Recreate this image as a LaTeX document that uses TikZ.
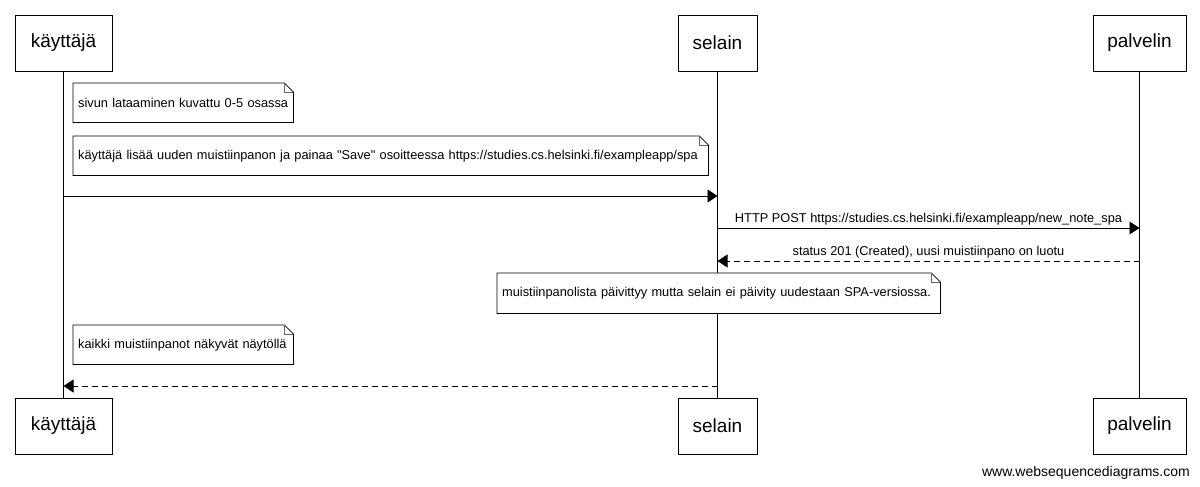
\documentclass[tikz,border=0pt]{standalone}
\usepackage{fontspec}
\setmainfont{Liberation Sans}
\usetikzlibrary{positioning,arrows.meta}
\newcommand{\notefold}[1]{\draw[line width=0.7pt] (#1.north west) -- ([xshift=-9pt]#1.north east) -- ([yshift=-9pt]#1.north east) -- (#1.south east) -- (#1.south west) -- cycle;
\draw[line width=0.6pt,black!60] ([xshift=-9pt]#1.north east) |- ([yshift=-9pt]#1.north east);}

\begin{document}
\begin{tikzpicture}[x=1pt,y=-1pt,
actor/.style={draw,line width=0.8pt,minimum height=56pt,inner sep=0pt,font=\fontsize{19}{22}\selectfont},
note/.style={fill=white,anchor=north west,align=left,inner xsep=5pt,minimum height=39pt,font=\fontsize{12.8}{15}\selectfont},
lbl/.style={font=\fontsize{12.8}{15}\selectfont,inner sep=2pt},
msg/.style={-{Triangle[length=10pt,width=13pt]},line width=0.8pt},
reply/.style={msg,dash pattern=on 6pt off 4pt},
life/.style={line width=0.8pt}]
\useasboundingbox (0,0) rectangle (1200,487);
\node[actor,minimum width=97pt] (k) at (63.5,43) {käyttäjä};
\node[actor,minimum width=79pt] (s) at (717.5,43) {selain};
\node[actor,minimum width=93pt] (p) at (1139.5,43) {palvelin};
\node[actor,minimum width=97pt] (kb) at (63.5,426) {käyttäjä};
\node[actor,minimum width=79pt] (sb) at (717.5,426) {selain};
\node[actor,minimum width=93pt] (pb) at (1139.5,426) {palvelin};
\draw[life] (k) -- (kb); \draw[life] (s) -- (sb); \draw[life] (p) -- (pb);
\coordinate (y1) at (0,196); \coordinate (y2) at (0,228);
\coordinate (y3) at (0,261); \coordinate (y4) at (0,386);
\node[note,text width=210pt] (n1) at (73,83) {sivun lataaminen kuvattu 0-5 osassa}; \notefold{n1}
\node[note,text width=625pt] (n2) at (73,136) {käyttäjä lisää uuden muistiinpanon ja painaa \textquotedbl Save\textquotedbl\ osoitteessa https://studies.cs.helsinki.fi/exampleapp/spa}; \notefold{n2}
\draw[msg] (k |- y1) -- (s |- y1);
\draw[msg] (s |- y2) -- node[above,lbl] (l1) {HTTP POST https://studies.cs.helsinki.fi/exampleapp/new\_note\_spa} (p |- y2);
\draw[reply] (p |- y3) -- node[above,lbl] (l2) {status 201 (Created), uusi muistiinpano on luotu} (s |- y3);
\node[note,text width=433pt,minimum height=40pt] (n3) at (497,273) {muistiinpanolista päivittyy mutta selain ei päivity uudestaan SPA-versiossa.}; \notefold{n3}
\node[note,text width=210pt] (n4) at (73,325) {kaikki muistiinpanot näkyvät näytöllä}; \notefold{n4}
\draw[reply] (s |- y4) -- (k |- y4);
\node[anchor=base east,font=\fontsize{14}{16}\selectfont,inner sep=0pt] (wsd) at (1190,476) {www.websequencediagrams.com};
\end{tikzpicture}
\end{document}
